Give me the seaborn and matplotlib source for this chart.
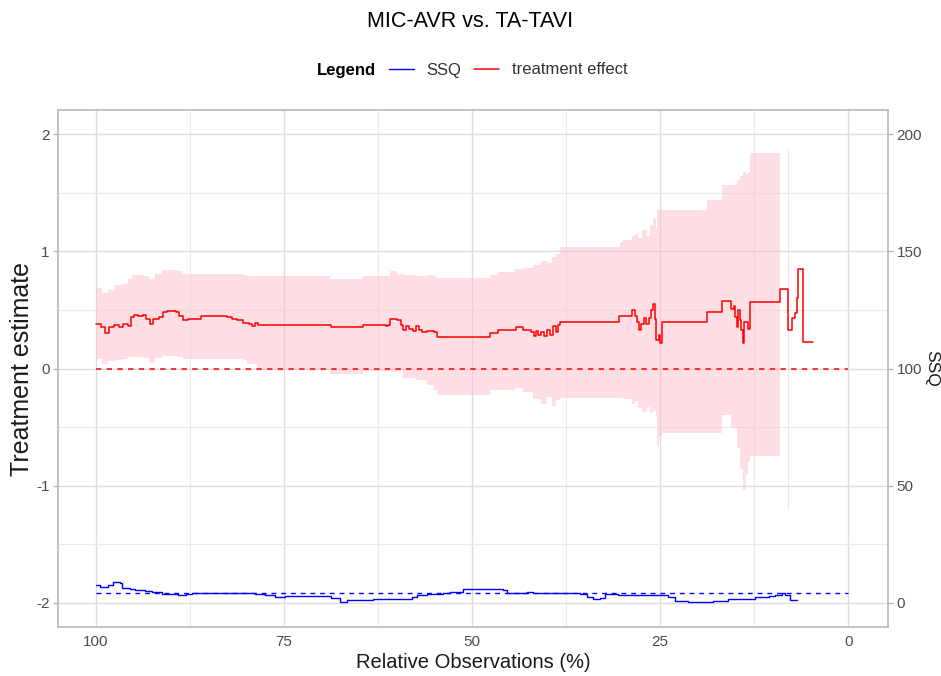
import numpy as np
import matplotlib
matplotlib.use("Agg")
import matplotlib.pyplot as plt
from matplotlib.lines import Line2D
import seaborn as sns

# ---------------- data ----------------
# treatment effect estimate (step line; value holds until next x)
te_x = [100.0, 99.3, 98.8, 98.3, 97.6, 97.0, 96.4, 95.8, 95.4, 95.0, 94.4, 93.8,
        93.3, 92.8, 92.4, 91.6, 91.1, 90.5, 89.4, 89.0, 88.4, 87.8, 86.0, 82.6,
        81.9, 81.2, 80.5, 79.7, 79.3, 78.9, 78.4, 68.7, 64.5, 61.5, 61.2, 60.9,
        60.0, 59.5, 59.2, 58.8, 58.4, 57.9, 57.5, 57.1, 56.6, 56.0, 55.0, 54.6,
        47.6, 46.5, 44.2, 43.2, 42.2, 41.8, 41.5, 41.2, 40.8, 40.4, 40.0, 39.6,
        39.3, 38.9, 38.6, 38.3, 30.4, 28.7, 28.4, 28.1, 27.8, 27.5, 27.2, 26.9,
        26.5, 26.2, 25.9, 25.7, 25.5, 25.2, 25.0, 24.7, 18.8, 16.8, 15.6, 15.2,
        15.0, 14.8, 14.6, 14.4, 14.2, 14.0, 13.8, 13.3, 13.0, 9.0, 8.0, 7.5,
        7.0, 6.8, 6.7, 6.0, 4.7]
te_y = [0.38, 0.35, 0.30, 0.35, 0.37, 0.35, 0.38, 0.36, 0.44, 0.46, 0.45, 0.46,
        0.42, 0.38, 0.42, 0.44, 0.48, 0.49, 0.48, 0.45, 0.41, 0.42, 0.45, 0.44,
        0.42, 0.41, 0.39, 0.38, 0.36, 0.39, 0.375, 0.35, 0.375, 0.36, 0.375, 0.42,
        0.41, 0.37, 0.33, 0.36, 0.34, 0.32, 0.36, 0.33, 0.31, 0.32, 0.31, 0.27,
        0.30, 0.33, 0.355, 0.33, 0.31, 0.28, 0.32, 0.29, 0.31, 0.28, 0.33, 0.29,
        0.36, 0.31, 0.37, 0.40, 0.45, 0.50, 0.45, 0.40, 0.33, 0.38, 0.43, 0.38,
        0.43, 0.50, 0.55, 0.42, 0.24, 0.29, 0.22, 0.40, 0.48, 0.58, 0.51, 0.53,
        0.44, 0.35, 0.50, 0.41, 0.33, 0.22, 0.40, 0.34, 0.57, 0.68, 0.33, 0.43,
        0.47, 0.60, 0.85, 0.23, 0.23]

# confidence band of the treatment effect (NaN = no band)
ci_x = [100.0, 99.2, 98.4, 97.5, 96.6, 95.8, 95.2, 93.8, 93.0, 92.2, 91.2, 89.2,
        88.4, 80.5, 79.9, 78.6, 68.9, 64.5, 60.9, 60.0, 59.2, 57.5, 56.0, 55.0,
        54.6, 47.6, 46.5, 44.3, 43.2, 41.9, 40.8, 40.0, 39.4, 38.8, 38.3, 30.3,
        29.9, 28.8, 28.4, 28.0, 27.4, 26.8, 26.4, 26.0, 25.6, 25.4, 25.1, 24.7,
        18.8, 16.8, 15.6, 14.8, 14.4, 14.0, 13.6, 13.3, 13.0, 9.0, 8.9,
        8.02, 7.88, 7.8]
ci_hi = [0.69, 0.64, 0.67, 0.71, 0.72, 0.76, 0.80, 0.79, 0.76, 0.81, 0.84, 0.83,
         0.81, 0.80, 0.79, 0.785, 0.765, 0.79, 0.83, 0.81, 0.80, 0.79, 0.80, 0.79,
         0.775, 0.80, 0.825, 0.85, 0.855, 0.88, 0.92, 0.90, 0.95, 0.98, 1.04, 1.08,
         1.10, 1.13, 1.15, 1.11, 1.18, 1.13, 1.22, 1.28, 1.20, 1.35, 1.35, 1.35,
         1.44, 1.565, 1.565, 1.61, 1.64, 1.68, 1.66, 1.68, 1.835, 1.835, np.nan,
         1.86, 1.86, np.nan]
ci_lo = [0.08, 0.04, 0.06, 0.07, 0.08, 0.10, 0.10, 0.09, 0.05, 0.09, 0.11, 0.10,
         0.08, 0.07, 0.04, -0.015, -0.05, -0.02, -0.03, -0.02, -0.08, -0.10, -0.14, -0.18,
         -0.226, -0.18, -0.18, -0.17, -0.20, -0.26, -0.30, -0.24, -0.32, -0.27, -0.255, -0.255,
         -0.26, -0.30, -0.28, -0.34, -0.37, -0.33, -0.38, -0.36, -0.40, -0.67, -0.58, -0.55,
         -0.55, -0.40, -0.51, -0.68, -0.86, -1.04, -0.90, -0.80, -0.75, -0.75, np.nan,
         -1.21, -1.21, np.nan]

# SSQ (secondary axis)
ssq_x = [100.0, 99.5, 98.8, 98.4, 97.7, 96.8, 96.6, 95.5, 94.8, 93.5, 92.6, 91.2,
         90.4, 89.1, 88.0, 87.3, 85.9, 82.0, 80.2, 78.8, 77.5, 76.2, 74.9, 70.4,
         68.7, 67.6, 66.6, 63.2, 58.0, 57.3, 56.0, 53.9, 52.9, 51.2, 48.9, 45.9,
         45.4, 42.7, 42.3, 41.9, 38.0, 35.6, 34.7, 33.9, 33.0, 32.3, 30.6, 24.7,
         23.9, 23.0, 21.3, 20.3, 18.0, 16.0, 13.3, 12.4, 10.5, 9.7, 8.8, 8.4,
         7.7, 6.8]
ssq_y = [7.7, 6.7, 7.0, 7.7, 8.8, 8.6, 6.3, 5.8, 5.5, 5.0, 4.8, 4.0,
         3.8, 3.5, 3.9, 4.1, 4.4, 4.2, 4.1, 3.8, 3.6, 2.7, 3.0, 2.8,
         2.0, 0.6, 1.3, 1.8, 2.4, 3.5, 3.8, 4.3, 4.8, 5.8, 6.1, 5.6,
         4.1, 4.5, 4.8, 4.1, 4.3, 4.0, 2.7, 1.7, 2.0, 3.7, 3.4, 3.2,
         2.6, 0.85, 0.6, 0.5, 0.8, 1.6, 1.9, 2.4, 2.8, 3.3, 4.1, 3.2,
         1.3, 1.3]

ref_x = [100.0, 0.0]
te_ref = [0.0, 0.0]
ssq_ref = [4.2, 4.2]

x_ticks = [100, 75, 50, 25, 0]
y_ticks = [-2, -1, 0, 1, 2]
ssq_ticks = [0, 50, 100, 150, 200]

# ---------------- style ----------------
sns.set_style("white")
plt.rcParams["font.family"] = ["Liberation Sans", "DejaVu Sans"]
plt.rcParams["axes.unicode_minus"] = False

W, H = 941, 676
fig = plt.figure(figsize=(W / 100, H / 100), dpi=100)
L, R, T, B = 58, 888, 110, 627
ax = fig.add_axes([L / W, 1 - B / H, (R - L) / W, (B - T) / H])

YLO, YHI = -2.205, 2.205
ax.set_xlim(105.05, -5.3)
ax.set_ylim(YLO, YHI)

# grid (ggplot theme_light look)
ax.set_xticks(x_ticks)
ax.set_xticks([87.5, 62.5, 37.5, 12.5], minor=True)
ax.set_yticks(y_ticks)
ax.set_yticks([-1.5, -0.5, 0.5, 1.5], minor=True)
ax.grid(which="major", color="#DEDEDE", lw=1.0)
ax.grid(which="minor", color="#EBEBEB", lw=0.8)
ax.set_axisbelow(True)
for s in ax.spines.values():
    s.set_color("#B3B3B3")
    s.set_linewidth(1.1)
ax.tick_params(which="major", length=3.6, width=0.9, color="#B3B3B3",
               labelsize=11, labelcolor="#4D4D4D", pad=2.5)
ax.tick_params(which="minor", length=0)

# confidence band
ax.fill_between(ci_x, ci_lo, ci_hi, step="post", color="#FFC0CB", alpha=0.5, lw=0)

# treatment effect line and zero reference
sns.lineplot(x=ref_x, y=te_ref, ax=ax, color="red", lw=1.1, sort=False,
             estimator=None, legend=False, linestyle=(0, (3.5, 3.5)))
sns.lineplot(x=te_x, y=te_y, ax=ax, color="red", lw=1.1, sort=False,
             estimator=None, legend=False, drawstyle="steps-post")

# secondary SSQ axis
ax2 = ax.twinx()
ax2.set_ylim(50 * (YLO + 2), 50 * (YHI + 2))
ax2.set_yticks(ssq_ticks)
for s in ax2.spines.values():
    s.set_visible(False)
ax2.tick_params(length=3.6, width=0.9, color="#B3B3B3", labelsize=11,
                labelcolor="#4D4D4D", pad=2.5)
sns.lineplot(x=ref_x, y=ssq_ref, ax=ax2, color="blue", lw=1.0, sort=False,
             estimator=None, legend=False, linestyle=(0, (3.5, 3.5)))
sns.lineplot(x=ssq_x, y=ssq_y, ax=ax2, color="blue", lw=1.0, sort=False,
             estimator=None, legend=False, drawstyle="steps-post")
ax2.grid(False)
ax2.set_xlim(105.05, -5.3)

# axis titles
ax.set_xlabel("Relative Observations (%)", fontsize=14.5, color="#1A1A1A")
ax.xaxis.label.set_va("center")
ax.xaxis.set_label_coords((473 - L) / (R - L), (B - 662) / (B - T))
ax.set_ylabel("Treatment estimate", fontsize=18, color="#1A1A1A")
ax.yaxis.label.set_va("center")
ax.yaxis.set_label_coords((22 - L) / (R - L), 0.5)
ax2.set_ylabel("SSQ", fontsize=12.5, color="#1A1A1A", rotation=-90)
ax2.yaxis.label.set_va("center")
ax2.yaxis.label.set_ha("center")
ax2.yaxis.set_label_coords((932 - L) / (R - L), 0.5)

# title
fig.text(0.5, 1 - 21.5 / H, "MIC-AVR vs. TA-TAVI", ha="center", va="center",
         fontsize=15.5, color="black")

# legend
fig.text(317 / W, 1 - 70 / H, "Legend", ha="left", va="center", fontsize=12,
         fontweight="bold", color="black")
handles = [Line2D([], [], color="blue", lw=1.0), Line2D([], [], color="red", lw=1.1)]
fig.legend(handles, ["SSQ", "treatment effect"], ncol=2, loc="center",
           bbox_to_anchor=(508 / W, 1 - 70 / H), frameon=False, fontsize=12,
           handlelength=1.5, handletextpad=0.75, columnspacing=0.8,
           labelcolor="#333333", borderpad=0, borderaxespad=0)

fig.savefig("out.png", dpi=100)
